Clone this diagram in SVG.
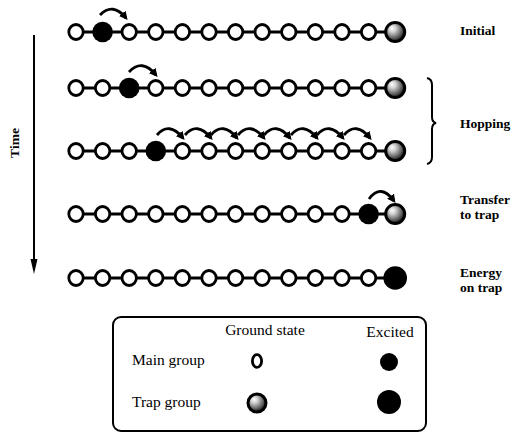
<svg xmlns="http://www.w3.org/2000/svg" xmlns:xlink="http://www.w3.org/1999/xlink" width="519" height="433" viewBox="0 0 519 433">
<style>
.lbl{font-family:"Liberation Serif","Times New Roman",serif;font-weight:bold;font-size:13.5px;fill:#000}
.leg{font-family:"Liberation Serif","Times New Roman",serif;font-size:15.5px;fill:#000}
.chain{stroke:#000;stroke-width:3;fill:none}
.hop{stroke:#000;stroke-width:2.8;fill:none;marker-end:url(#ah)}
.gnd{fill:#fff;stroke:#000;stroke-width:2.8}
.exc{fill:#000}
.trap{fill:url(#tg);stroke:#000;stroke-width:3}
</style>
<defs>
<radialGradient id="tg" cx="40%" cy="38%" r="62%" fx="33%" fy="30%">
<stop offset="0" stop-color="#fff"/>
<stop offset="0.3" stop-color="#d0d0d0"/>
<stop offset="0.7" stop-color="#6a6a6a"/>
<stop offset="1" stop-color="#1a1a1a"/>
</radialGradient>
<marker id="ah" viewBox="0 0 10 10" refX="7" refY="5" markerWidth="8.5" markerHeight="8.5" markerUnits="userSpaceOnUse" orient="auto">
<path d="M0,0 L10,5 L0,10 z" fill="#000"/>
</marker>
<ellipse id="g" cx="0" cy="0" rx="7.2" ry="7.5" class="gnd"/>
<circle id="e" cx="0" cy="0" r="10.3" class="exc"/>
<circle id="t" cx="0" cy="0" r="9.5" class="trap"/>
<circle id="te" cx="0" cy="0" r="11.8" class="exc"/>
</defs>
<rect width="519" height="433" fill="#fff"/>

<g id="connectors">
<line class="chain" x1="76" y1="32" x2="395.2" y2="32"/>
<line class="chain" x1="76" y1="88" x2="395.2" y2="88"/>
<line class="chain" x1="76" y1="151" x2="395.2" y2="151"/>
<line class="chain" x1="76" y1="214" x2="395.2" y2="214"/>
<line class="chain" x1="76" y1="278" x2="395.2" y2="278"/>
<path class="hop" d="M100,15 Q113,2 126,18"/>
<path class="hop" d="M129,72 Q142,58 156,75"/>
<path class="hop" d="M157,135 Q169,121 183,138"/>
<path class="hop" d="M185,135 Q197,121 211,138"/>
<path class="hop" d="M211,135 Q223,121 237,138"/>
<path class="hop" d="M238,135 Q250,121 264,138"/>
<path class="hop" d="M264,135 Q276,121 290,138"/>
<path class="hop" d="M291,135 Q303,121 317,138"/>
<path class="hop" d="M317,135 Q329,121 343,138"/>
<path class="hop" d="M344,135 Q356,121 370,138"/>
<path class="hop" d="M369,199 Q381,183 394,201"/>
</g>

<!-- Row 1 -->
<g id="r1n0" transform="translate(76,32)"><use href="#g"/></g>
<g id="r1n1" transform="translate(102.6,32)"><use href="#e"/></g>
<g id="r1n2" transform="translate(129.2,32)"><use href="#g"/></g>
<g id="r1n3" transform="translate(155.8,32)"><use href="#g"/></g>
<g id="r1n4" transform="translate(182.4,32)"><use href="#g"/></g>
<g id="r1n5" transform="translate(209,32)"><use href="#g"/></g>
<g id="r1n6" transform="translate(235.6,32)"><use href="#g"/></g>
<g id="r1n7" transform="translate(262.2,32)"><use href="#g"/></g>
<g id="r1n8" transform="translate(288.8,32)"><use href="#g"/></g>
<g id="r1n9" transform="translate(315.4,32)"><use href="#g"/></g>
<g id="r1n10" transform="translate(342,32)"><use href="#g"/></g>
<g id="r1n11" transform="translate(368.6,32)"><use href="#g"/></g>
<g id="r1trap" transform="translate(395.2,32)"><use href="#t"/></g>

<!-- Row 2 -->
<g id="r2n0" transform="translate(76,88)"><use href="#g"/></g>
<g id="r2n1" transform="translate(102.6,88)"><use href="#g"/></g>
<g id="r2n2" transform="translate(129.2,88)"><use href="#e"/></g>
<g id="r2n3" transform="translate(155.8,88)"><use href="#g"/></g>
<g id="r2n4" transform="translate(182.4,88)"><use href="#g"/></g>
<g id="r2n5" transform="translate(209,88)"><use href="#g"/></g>
<g id="r2n6" transform="translate(235.6,88)"><use href="#g"/></g>
<g id="r2n7" transform="translate(262.2,88)"><use href="#g"/></g>
<g id="r2n8" transform="translate(288.8,88)"><use href="#g"/></g>
<g id="r2n9" transform="translate(315.4,88)"><use href="#g"/></g>
<g id="r2n10" transform="translate(342,88)"><use href="#g"/></g>
<g id="r2n11" transform="translate(368.6,88)"><use href="#g"/></g>
<g id="r2trap" transform="translate(395.2,88)"><use href="#t"/></g>

<!-- Row 3 -->
<g id="r3n0" transform="translate(76,151)"><use href="#g"/></g>
<g id="r3n1" transform="translate(102.6,151)"><use href="#g"/></g>
<g id="r3n2" transform="translate(129.2,151)"><use href="#g"/></g>
<g id="r3n3" transform="translate(155.8,151)"><use href="#e"/></g>
<g id="r3n4" transform="translate(182.4,151)"><use href="#g"/></g>
<g id="r3n5" transform="translate(209,151)"><use href="#g"/></g>
<g id="r3n6" transform="translate(235.6,151)"><use href="#g"/></g>
<g id="r3n7" transform="translate(262.2,151)"><use href="#g"/></g>
<g id="r3n8" transform="translate(288.8,151)"><use href="#g"/></g>
<g id="r3n9" transform="translate(315.4,151)"><use href="#g"/></g>
<g id="r3n10" transform="translate(342,151)"><use href="#g"/></g>
<g id="r3n11" transform="translate(368.6,151)"><use href="#g"/></g>
<g id="r3trap" transform="translate(395.2,151)"><use href="#t"/></g>

<!-- Row 4 -->
<g id="r4n0" transform="translate(76,214)"><use href="#g"/></g>
<g id="r4n1" transform="translate(102.6,214)"><use href="#g"/></g>
<g id="r4n2" transform="translate(129.2,214)"><use href="#g"/></g>
<g id="r4n3" transform="translate(155.8,214)"><use href="#g"/></g>
<g id="r4n4" transform="translate(182.4,214)"><use href="#g"/></g>
<g id="r4n5" transform="translate(209,214)"><use href="#g"/></g>
<g id="r4n6" transform="translate(235.6,214)"><use href="#g"/></g>
<g id="r4n7" transform="translate(262.2,214)"><use href="#g"/></g>
<g id="r4n8" transform="translate(288.8,214)"><use href="#g"/></g>
<g id="r4n9" transform="translate(315.4,214)"><use href="#g"/></g>
<g id="r4n10" transform="translate(342,214)"><use href="#g"/></g>
<g id="r4n11" transform="translate(368.6,214)"><use href="#e"/></g>
<g id="r4trap" transform="translate(395.2,214)"><use href="#t"/></g>

<!-- Row 5 -->
<g id="r5n0" transform="translate(76,278)"><use href="#g"/></g>
<g id="r5n1" transform="translate(102.6,278)"><use href="#g"/></g>
<g id="r5n2" transform="translate(129.2,278)"><use href="#g"/></g>
<g id="r5n3" transform="translate(155.8,278)"><use href="#g"/></g>
<g id="r5n4" transform="translate(182.4,278)"><use href="#g"/></g>
<g id="r5n5" transform="translate(209,278)"><use href="#g"/></g>
<g id="r5n6" transform="translate(235.6,278)"><use href="#g"/></g>
<g id="r5n7" transform="translate(262.2,278)"><use href="#g"/></g>
<g id="r5n8" transform="translate(288.8,278)"><use href="#g"/></g>
<g id="r5n9" transform="translate(315.4,278)"><use href="#g"/></g>
<g id="r5n10" transform="translate(342,278)"><use href="#g"/></g>
<g id="r5n11" transform="translate(368.6,278)"><use href="#g"/></g>
<g id="r5trap" transform="translate(395.2,278)"><use href="#te"/></g>

<!-- Time axis -->
<g id="time">
<line x1="34" y1="35" x2="34" y2="262" stroke="#000" stroke-width="2"/>
<polygon points="34,274 30.5,259 37.5,259" fill="#000"/>
<text class="lbl" transform="translate(19,143) rotate(-90)" text-anchor="middle">Time</text>
</g>

<!-- Brace -->
<g id="brace">
<path d="M427,78 Q432,79 432,85 L432,117 Q432,122 436,123 Q432,124 432,129 L432,157 Q432,163 427,164" fill="none" stroke="#000" stroke-width="2"/>
</g>

<!-- Stage labels -->
<g id="labels">
<text class="lbl" x="460" y="35">Initial</text>
<text class="lbl" x="460" y="128">Hopping</text>
<text class="lbl" x="460" y="204">Transfer</text>
<text class="lbl" x="460" y="219">to trap</text>
<text class="lbl" x="460" y="277">Energy</text>
<text class="lbl" x="460" y="292">on trap</text>
</g>

<!-- Legend -->
<g id="legend">
<rect x="113" y="317" width="313" height="114" rx="8" ry="8" fill="#fff" stroke="#000" stroke-width="2"/>
<text class="leg" x="265" y="335" text-anchor="middle">Ground state</text>
<text class="leg" x="390" y="337" text-anchor="middle">Excited</text>
<text class="leg" x="132" y="365">Main group</text>
<text class="leg" x="132" y="407">Trap group</text>
<ellipse cx="257" cy="361" rx="4.6" ry="6.4" class="gnd"/>
<circle cx="389" cy="362" r="9" class="exc"/>
<circle cx="257" cy="403" r="9" class="trap"/>
<circle cx="389" cy="402" r="12" class="exc"/>
</g>
</svg>
